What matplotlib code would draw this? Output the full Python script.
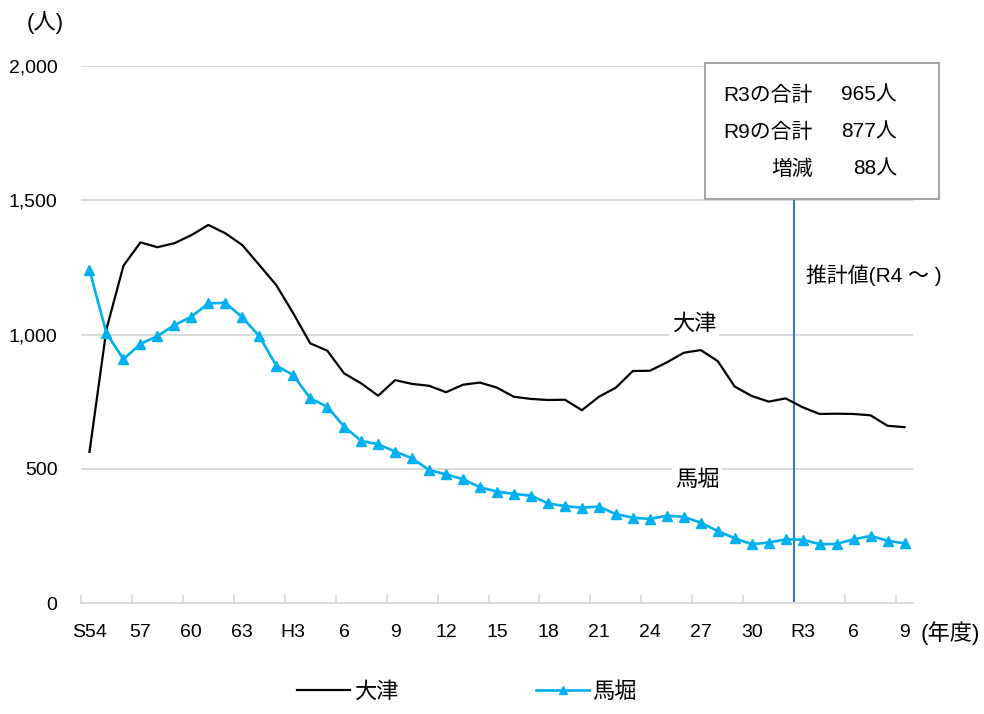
import matplotlib
matplotlib.use("Agg")
import matplotlib.pyplot as plt
from matplotlib import font_manager
from matplotlib.patches import Rectangle
from matplotlib.lines import Line2D

# fiscal years S54 (1979) .. R9 (2027)
otsu = [563, 1020, 1256, 1343, 1325, 1340, 1370, 1408, 1377, 1333,
        1259, 1184, 1079, 967, 940, 855, 818, 772, 830, 816,
        809, 785, 813, 821, 802, 768, 760, 756, 757, 718,
        768, 802, 864, 865, 896, 932, 942, 901, 806, 771,
        750, 762, 729, 704, 705, 704, 699, 660, 655]
mabori = [1240, 1005, 908, 965, 994, 1035, 1066, 1116, 1118, 1064,
          994, 884, 849, 762, 731, 657, 604, 591, 564, 539,
          495, 479, 461, 431, 415, 406, 400, 371, 361, 355,
          359, 331, 318, 313, 325, 321, 299, 268, 241, 219,
          225, 237, 236, 219, 220, 237, 250, 232, 222]
tick_labels = ["S54", "57", "60", "63", "H3", "6", "9", "12", "15", "18",
               "21", "24", "27", "30", "R3", "6", "9"]
y_ticks = [0, 500, 1000, 1500, 2000]
summary_left = ["R3の合計", "R9の合計", "増減"]
summary_right = ["965人", "877人", "88人"]

names = {f.name for f in font_manager.fontManager.ttflist}
latin = "Liberation Sans Narrow" if "Liberation Sans Narrow" in names else "Liberation Sans"
plt.rcParams["font.family"] = [latin, "Noto Sans CJK JP", "DejaVu Sans"]

W, H = 984, 714
fig = plt.figure(figsize=(W / 100, H / 100), dpi=100)


def fx(x):
    return x / W


def fy(y):
    return 1 - y / H


# plot area: x 81..913 px, y 66..603 px
ax = fig.add_axes([fx(81), fy(603), (913 - 81) / W, (603 - 66) / H])
n = len(otsu)
xs = list(range(n))

grid_c = "#d9d9d9"
for v in y_ticks[1:]:
    ax.axhline(v, color=grid_c, lw=1.4, zorder=0)

ax.plot(xs, otsu, color="black", lw=1.6, zorder=3)
ax.plot(xs, mabori, color="#00b0f0", lw=1.9, marker="^", ms=7.5, zorder=3)

ax.set_xlim(-0.5, n - 0.5)
ax.set_ylim(0, 2000)
for s in ["top", "right", "left"]:
    ax.spines[s].set_visible(False)
ax.spines["bottom"].set_color(grid_c)
ax.spines["bottom"].set_linewidth(1.4)

ax.set_xticks(list(range(0, n, 3)))
ax.set_xticklabels(tick_labels)
ax.set_xticks([i - 0.5 for i in range(0, n, 3)], minor=True)
ax.tick_params(axis="x", which="major", length=0, pad=15, labelsize=14)
ax.tick_params(axis="x", which="minor", direction="in", length=6, color=grid_c, width=1.2)
ax.set_yticks(y_ticks)
ax.set_yticklabels([f"{v:,}" for v in y_ticks])
ax.tick_params(axis="y", length=0, pad=17, labelsize=14)

# forecast divider
ax.axvline(41.5, ymin=0, ymax=(603 - 199) / 537, color="#4472c4", lw=1.5, zorder=2)

# series labels
ax.text(35.6, 1000, "大津", ha="center", va="bottom", fontsize=16, zorder=4,
        bbox=dict(facecolor="white", edgecolor="none", pad=2))
ax.text(35.8, 495, "馬堀", ha="center", va="top", fontsize=16, zorder=4,
        bbox=dict(facecolor="white", edgecolor="none", pad=2))

# summary box
fig.add_artist(Rectangle((fx(705), fy(199)), (939 - 705) / W, (199 - 63) / H,
                         transform=fig.transFigure, facecolor="white",
                         edgecolor="#a6a6a6", lw=1.5, zorder=5))
for k, (a, b) in enumerate(zip(summary_left, summary_right)):
    yy = fy(95 + k * 37)
    fig.text(fx(813), yy, a, ha="right", va="center", fontsize=15, zorder=6)
    fig.text(fx(897), yy, b, ha="right", va="center", fontsize=15, zorder=6)

fig.text(fx(806), fy(275), "推計値(R4 ～ )", ha="left", va="center", fontsize=15)
fig.text(fx(45), fy(23), "(人)", ha="center", va="center", fontsize=16)
fig.text(fx(950), fy(633), "(年度)", ha="center", va="center", fontsize=16)

handles = [Line2D([], [], color="black", lw=1.6),
           Line2D([], [], color="#00b0f0", lw=1.9, marker="^", ms=6)]
fig.legend(handles, ["大津", "馬堀"], loc="center", bbox_to_anchor=(fx(467), fy(692)),
           ncol=2, frameon=False, fontsize=16, handlelength=2.4,
           handletextpad=0.15, columnspacing=6.2)

fig.savefig("out.png", dpi=100)
